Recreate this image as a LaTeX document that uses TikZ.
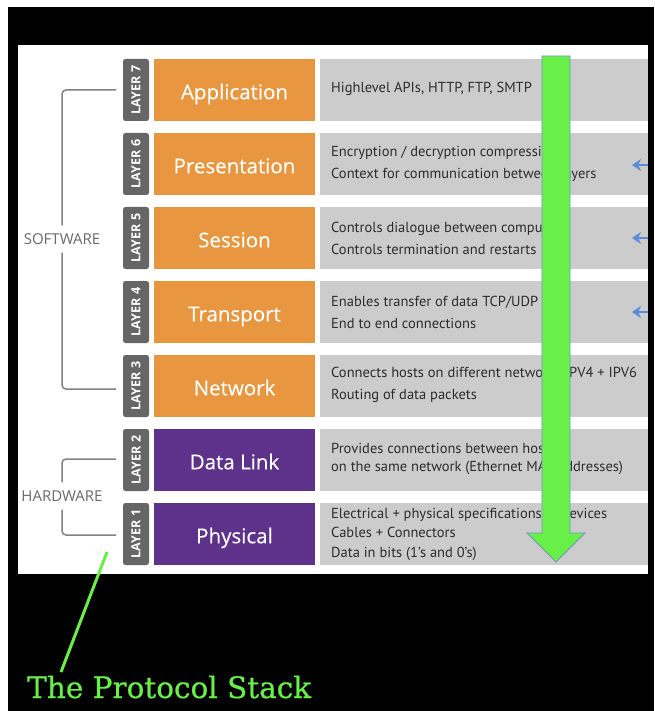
\documentclass[tikz,border=0pt]{standalone}
\usepackage{fontspec}
\setmainfont{Open Sans}
\newfontfamily\namefont[FakeBold=0.35]{Open Sans}
\newfontfamily\descfont{PT Sans}
\newfontfamily\titlefont[FakeBold=0.6]{DejaVu Serif}
\usetikzlibrary{arrows.meta}
\definecolor{orangebox}{RGB}{233,150,64}
\definecolor{purplebox}{RGB}{94,50,138}
\definecolor{greybox}{RGB}{204,204,204}
\definecolor{tabgrey}{RGB}{102,102,102}
\definecolor{bracketgrey}{RGB}{130,130,130}
\definecolor{labelgrey}{RGB}{105,105,105}
\definecolor{desctext}{RGB}{45,45,45}
\definecolor{arrowgreen}{RGB}{104,240,72}
\definecolor{arrowedge}{RGB}{110,150,200}
\definecolor{smallblue}{RGB}{90,140,215}
\begin{document}
\begin{tikzpicture}[x=1pt,y=-1pt,
  layertab/.style={rotate=90, fill=tabgrey, rounded corners=2.5pt, minimum width=62pt, minimum height=26pt, inner sep=0pt, text=white, font=\bfseries\fontsize{12.5}{13}\selectfont},
  namebox/.style={minimum width=161pt, minimum height=62pt, inner sep=0pt, text=white, text height=18.6pt, text depth=0pt, font=\namefont\fontsize{20.5}{23}\selectfont},
  soft/.style={namebox, fill=orangebox},
  hard/.style={namebox, fill=purplebox},
  descbox/.style={fill=greybox, minimum width=328pt, minimum height=62pt, inner sep=0pt},
  desc/.style={anchor=west, align=left, inner sep=0pt, text=desctext, font=\descfont\fontsize{14.5}{22}\selectfont},
  bracket/.style={draw=bracketgrey, line width=1.5pt, rounded corners=4pt},
  grouplabel/.style={text=labelgrey, font=\fontsize{15}{17}\selectfont, inner xsep=0pt, inner ysep=8pt},
  smallarrow/.style={draw=smallblue, line width=2.2pt, -{Stealth[length=9pt,width=12pt]}},
]
\useasboundingbox (0,0) rectangle (654,711);
\fill[white] (0,0) rectangle (654,711);
\fill[black] (8,7) rectangle (654,711);
\fill[white] (18,45) rectangle (648,574);

% layer 7
\node[layertab] (t7) at (136,90) {LAYER 7};
\node[soft] (n7) at (234.5,90) {Application};
\node[descbox] (g7) at (484,90) {};
\node[desc] (d7) at (331,89) {Highlevel APIs, HTTP, FTP, SMTP};
% layer 6
\node[layertab] (t6) at (136,164) {LAYER 6};
\node[soft] (n6) at (234.5,164) {Presentation};
\node[descbox] (g6) at (484,164) {};
\node[desc] (d6) at (331,164) {Encryption / decryption compression\\Context for communication between layers};
% layer 5
\node[layertab] (t5) at (136,238) {LAYER 5};
\node[soft] (n5) at (234.5,238) {Session};
\node[descbox] (g5) at (484,238) {};
\node[desc] (d5) at (331,238) {Controls dialogue between computers\\Controls termination and restarts};
% layer 4
\node[layertab] (t4) at (136,312) {LAYER 4};
\node[soft] (n4) at (234.5,312) {Transport};
\node[descbox] (g4) at (484,312) {};
\node[desc] (d4) at (331,312) {Enables transfer of data TCP/UDP\\End to end connections};
% layer 3
\node[layertab] (t3) at (136,386) {LAYER 3};
\node[soft] (n3) at (234.5,386) {Network};
\node[descbox] (g3) at (484,386) {};
\node[desc] (d3) at (331,385) {Connects hosts on different networks IPV4 + IPV6\\Routing of data packets};
% layer 2
\node[layertab] (t2) at (136,460) {LAYER 2};
\node[hard] (n2) at (234.5,460) {Data Link};
\node[descbox] (g2) at (484,460) {};
\node[desc, font=\descfont\fontsize{14.5}{18.5}\selectfont] (d2) at (331,459) {Provides connections between hosts\\on the same network (Ethernet MAC addresses)};
% layer 1
\node[layertab] (t1) at (136,534) {LAYER 1};
\node[hard] (n1) at (234.5,534) {Physical};
\node[descbox] (g1) at (484,534) {};
\node[desc, font=\descfont\fontsize{14.5}{19.5}\selectfont] (d1) at (331,534) {Electrical + physical specifications of devices\\Cables + Connectors\\Data in bits (1’s and 0’s)};

% group labels and brackets
\node[grouplabel] (sw) at (62,239) {SOFTWARE};
\node[grouplabel] (hw) at (62,496) {HARDWARE};
\coordinate (b7) at (116,90);
\coordinate (b3) at (116,389);
\coordinate (b2) at (116,459);
\coordinate (b1) at (116,535);
\draw[bracket] (b7) -| (sw.north);
\draw[bracket] (sw.south) |- (b3);
\draw[bracket] (b2) -| (hw.north);
\draw[bracket] (hw.south) |- (b1);

% small blue arrows
\coordinate (s6a) at (650,165); \coordinate (s6b) at (632,165);
\coordinate (s5a) at (650,238); \coordinate (s5b) at (632,238);
\coordinate (s4a) at (650,312); \coordinate (s4b) at (632,312);
\draw[smallarrow] (s6a) -- (s6b);
\draw[smallarrow] (s5a) -- (s5b);
\draw[smallarrow] (s4a) -- (s4b);
\fill[black] (648,45) rectangle (654,574);

% big green arrow
\fill[arrowgreen, draw=arrowedge, line width=0.8pt, line join=miter]
  (542,56) -- (570,56) -- (570,533) -- (585,533) -- (556,562) -- (527,533) -- (542,533) -- cycle;

% pointer and title
\coordinate (p1) at (107,552);
\coordinate (p2) at (61,672);
\draw[arrowgreen, line width=3pt] (p1) -- (p2);
\node[anchor=base west, inner sep=0pt, text=arrowgreen, font=\titlefont\fontsize{29.5}{32}\selectfont] (title) at (27,698) {The Protocol Stack};
\end{tikzpicture}
\end{document}
